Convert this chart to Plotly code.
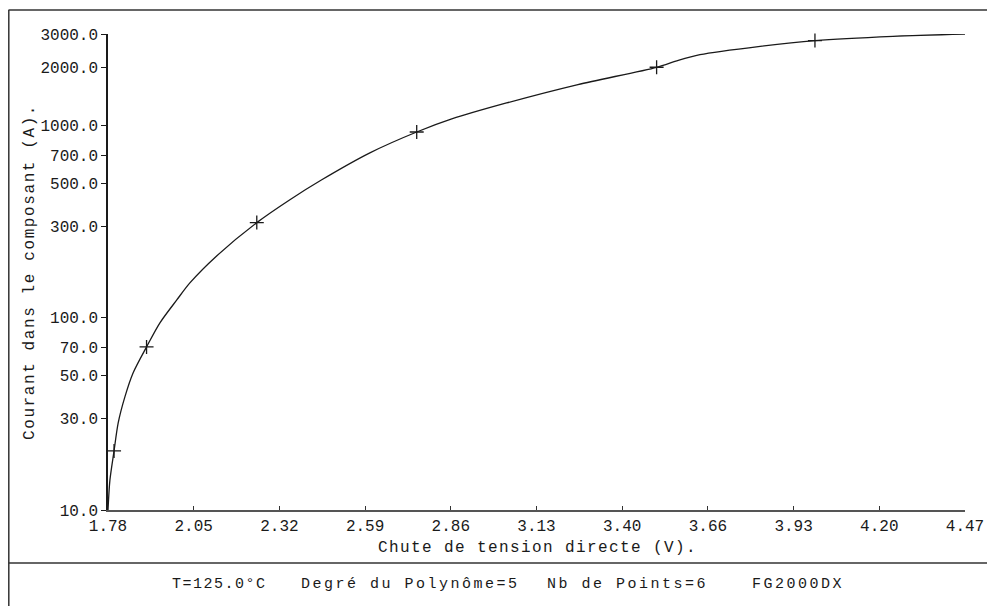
import plotly.graph_objects as go
import math

# Fitted curve
curve_v = [1.780, 1.786, 1.799, 1.812, 1.833, 1.859, 1.901, 1.943, 1.996, 2.037,
           2.121, 2.247, 2.351, 2.451, 2.602, 2.749, 2.859, 3.031, 3.255, 3.502,
           3.570, 3.638, 3.827, 3.999, 4.244, 4.470]
curve_i = [10.0, 14.3, 20.3, 28.4, 38.8, 51.8, 70.6, 94.2, 124, 152,
           210, 313, 412, 523, 722, 927, 1084, 1313, 1637, 2014,
           2190, 2343, 2589, 2773, 2918, 3000]

# Measured points (+ markers)
point_v = [1.799, 1.901, 2.247, 2.749, 3.502, 3.999]
point_i = [20.3, 70.6, 313, 927, 2014, 2773]

x_tick_vals = [1.78 + i * 0.269 for i in range(11)]
x_tick_text = ["1.78", "2.05", "2.32", "2.59", "2.86", "3.13", "3.40", "3.66", "3.93", "4.20", "4.47"]
y_tick_vals = [10, 30, 50, 70, 100, 300, 500, 700, 1000, 2000, 3000]
y_tick_text = ["10.0", "30.0", "50.0", "70.0", "100.0", "300.0", "500.0", "700.0", "1000.0", "2000.0", "3000.0"]

FONT = "Liberation Mono"
INK = "#1a1a1a"

fig = go.Figure()
fig.add_trace(go.Scatter(x=curve_v, y=curve_i, mode="lines",
                         line=dict(color=INK, width=1.3, shape="spline", smoothing=0.8),
                         hoverinfo="skip", showlegend=False, cliponaxis=False))
fig.add_trace(go.Scatter(x=point_v, y=point_i, mode="markers",
                         marker=dict(symbol="cross-thin", size=10,
                                     line=dict(color=INK, width=1.3)),
                         showlegend=False, cliponaxis=False))

OFF = 8  # page body margin
W, H = 995 - OFF, 606 - OFF
L, R, T, B = 108 - OFF, 30, 34 - OFF, 96
pw, ph = W - L - R, H - T - B

def px(xp):  # xp: pixel in window coordinates
    return (xp - OFF - L) / pw

def py(yp):
    return (H - B - (yp - OFF)) / ph

fig.update_layout(
    width=W, height=H,
    margin=dict(l=L, r=R, t=T, b=B),
    paper_bgcolor="white", plot_bgcolor="white",
    font=dict(family=FONT, size=16, color=INK),
    xaxis=dict(range=[1.78, 4.47], tickvals=x_tick_vals, ticktext=x_tick_text,
               showgrid=False, zeroline=False, showline=True, linecolor="#555555",
               linewidth=2, ticks="inside", ticklen=4, tickcolor="#333333",
               tickfont=dict(family=FONT, size=16, color=INK)),
    yaxis=dict(type="log", range=[1, math.log10(3000)], tickvals=y_tick_vals,
               ticktext=y_tick_text, showgrid=False, zeroline=False, showline=True,
               linecolor=INK, linewidth=1.5, ticks="outside", ticklen=5,
               tickcolor=INK, tickfont=dict(family=FONT, size=16, color=INK)),
    shapes=[
        dict(type="line", xref="paper", yref="paper", x0=px(8.5), x1=px(995), y0=py(10), y1=py(10),
             line=dict(color="#333333", width=1.5)),
        dict(type="line", xref="paper", yref="paper", x0=px(8.8), x1=px(8.8), y0=py(10), y1=py(606),
             line=dict(color="#333333", width=1.5)),
        dict(type="line", xref="paper", yref="paper", x0=px(8.5), x1=px(995), y0=py(563), y1=py(563),
             line=dict(color="#333333", width=1.5)),
    ],
    annotations=[
        dict(text='<span style="letter-spacing:1.4px">Chute de tension directe (V).</span>',
             xref="paper", yref="paper", x=px(537), y=py(548), showarrow=False,
             xanchor="center", yanchor="middle", font=dict(family=FONT, size=16)),
        dict(text='<span style="letter-spacing:1.6px">Courant dans le composant (A).</span>',
             xref="paper", yref="paper", x=px(30), y=py(272), showarrow=False,
             textangle=-90, xanchor="center", yanchor="middle", font=dict(family=FONT, size=16)),
        dict(text='<span style="letter-spacing:1.5px">T=125.0°C</span>',
             xref="paper", yref="paper", x=px(170), y=py(584), showarrow=False,
             xanchor="left", yanchor="middle", font=dict(family=FONT, size=15)),
        dict(text='<span style="letter-spacing:2.5px">Degré du Polynôme=5</span>',
             xref="paper", yref="paper", x=px(299), y=py(584), showarrow=False,
             xanchor="left", yanchor="middle", font=dict(family=FONT, size=15)),
        dict(text='<span style="letter-spacing:2.5px">Nb de Points=6</span>',
             xref="paper", yref="paper", x=px(545), y=py(584), showarrow=False,
             xanchor="left", yanchor="middle", font=dict(family=FONT, size=15)),
        dict(text='<span style="letter-spacing:2.5px">FG2000DX</span>',
             xref="paper", yref="paper", x=px(750), y=py(584), showarrow=False,
             xanchor="left", yanchor="middle", font=dict(family=FONT, size=15)),
    ],
)

fig.write_html("out.html")
